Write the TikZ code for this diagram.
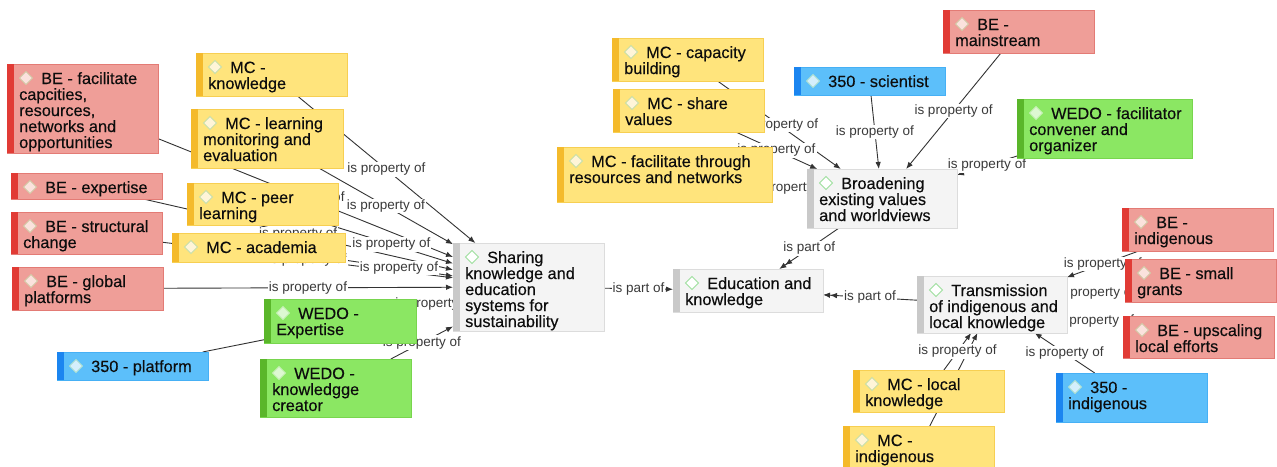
\documentclass[tikz,border=0pt]{standalone}
\usepackage{fontspec}
\setmainfont{Liberation Sans}
\newfontfamily\cardfont[FakeBold=0.35]{Liberation Sans}
\usetikzlibrary{arrows.meta}

\pgfdeclarelayer{paper}
\pgfdeclarelayer{links}
\pgfdeclarelayer{tags}
\pgfsetlayers{paper,links,tags,main}

% card colour sets: fill, border, side bar, icon fill, icon outline
\definecolor{be-fill}{HTML}{EF9E98}
\definecolor{be-line}{HTML}{E37B75}
\definecolor{be-bar}{HTML}{E13B35}
\definecolor{be-icon}{HTML}{FBE2DD}
\definecolor{be-iconline}{HTML}{D2C8A4}
\definecolor{mc-fill}{HTML}{FFE47C}
\definecolor{mc-line}{HTML}{F7CF52}
\definecolor{mc-bar}{HTML}{F4BA2B}
\definecolor{mc-icon}{HTML}{FFF5D8}
\definecolor{mc-iconline}{HTML}{C6DFA8}
\definecolor{sc-fill}{HTML}{5CBFFA}
\definecolor{sc-line}{HTML}{46B0F5}
\definecolor{sc-bar}{HTML}{1B85F0}
\definecolor{sc-icon}{HTML}{D4EFFC}
\definecolor{sc-iconline}{HTML}{ACE0D0}
\definecolor{wd-fill}{HTML}{8BE763}
\definecolor{wd-line}{HTML}{78D54E}
\definecolor{wd-bar}{HTML}{5AB62A}
\definecolor{wd-icon}{HTML}{DDF8D2}
\definecolor{wd-iconline}{HTML}{C4F0B2}
\definecolor{gr-fill}{HTML}{F4F4F4}
\definecolor{gr-line}{HTML}{DCDCDC}
\definecolor{gr-bar}{HTML}{C9C9C9}
\definecolor{gr-icon}{HTML}{FFFFFF}
\definecolor{gr-iconline}{HTML}{9EDF9E}
\definecolor{linkgrey}{HTML}{333333}
\definecolor{labelgrey}{HTML}{3A3A3A}

\tikzset{
  card/.style={draw=#1-line, fill=#1-fill, line width=0.8pt, inner sep=0pt,
    outer sep=0pt, anchor=north west},
  cardtext/.style={inner sep=0pt, anchor=base west,
    font=\cardfont\fontsize{16.3}{16}\selectfont, text=black!95},
  prop/.style={draw=linkgrey, line width=0.9pt,
    -{Latex[length=7pt,width=5.5pt]}},
  partone/.style={draw=linkgrey, line width=0.9pt,
    -{Latex[length=7pt,width=5.5pt]}},
  parttwo/.style={draw=linkgrey, line width=0.9pt,
    -{Latex[length=7pt,width=5.5pt]Latex[length=7pt,width=5.5pt]}},
  lbl/.style={fill=white, inner sep=1pt, font=\fontsize{13.5}{14}\selectfont,
    text=labelgrey},
}

% \card{name}{colour set}{left}{top}{width}{height}{text}
\newcommand\card[7]{%
  \node[card=#2, minimum width=#5pt, minimum height=#6pt] (#1) at (#3,#4) {};
  \fill[#2-bar] (#1.north west) rectangle ([xshift=7pt]#1.south west);
  \filldraw[fill=#2-icon, draw=#2-iconline, line width=1pt]
    ([shift={(19,14)}]#1.north west) +(-6.5,0) -- +(0,-6.5) -- +(6.5,0)
    -- +(0,6.5) -- cycle;
  \node[cardtext] (#1-t) at ([shift={(12,20)}]#1.north west)
    {\parbox[t]{220pt}{\raggedright\hspace*{22pt}#7}};
}

% \link{style}{from}{to}{label}: line under the cards, label above the lines
\newcommand\link[4]{%
  \begin{pgfonlayer}{links}
    \draw[#1] (#2) -- (#3);
  \end{pgfonlayer}
  \begin{pgfonlayer}{tags}
    \path (#2) -- node[lbl] (#2to#3) {#4} (#3);
  \end{pgfonlayer}
}

\begin{document}
\begin{tikzpicture}[x=1pt,y=-1pt]
\useasboundingbox (0,0) rectangle (1277,466);
\begin{pgfonlayer}{paper}
  \fill[white] (0,0) rectangle (1277,466);
\end{pgfonlayer}

% left cluster
\card{befac}{be}{7}{64}{151}{89}{BE - facilitate\\capcities,\\resources,\\networks and\\opportunities}
\card{mckn}{mc}{196}{53}{151}{43}{MC -\\knowledge}
\card{mclme}{mc}{191}{109}{152}{59}{MC - learning\\monitoring and\\evaluation}
\card{beexp}{be}{11}{173}{151}{26}{BE - expertise}
\card{mcpeer}{mc}{187}{183}{151}{42}{MC - peer\\learning}
\card{bestr}{be}{11}{212}{151}{42}{BE - structural\\change}
\card{mcacad}{mc}{172}{233}{173}{29}{MC - academia}
\card{beglob}{be}{12}{267}{151}{43}{BE - global\\platforms}
\card{plat}{sc}{57}{352}{151}{28}{350 - platform}
\card{wedoexp}{wd}{264}{299}{152}{44}{WEDO -\\Expertise}
\card{wedokn}{wd}{260}{359}{151}{58}{WEDO -\\knowledgge\\creator}
\card{shr}{gr}{453}{243}{151}{88}{Sharing\\knowledge and\\education\\systems for\\sustainability}

% centre
\card{edu}{gr}{673}{269}{150}{43}{Education and\\knowledge}

% upper right cluster
\card{mccap}{mc}{612}{38}{151}{43}{MC - capacity\\building}
\card{mcshare}{mc}{613}{89}{151}{43}{MC - share\\values}
\card{mcfac}{mc}{557}{147}{215}{55}{MC - facilitate through\\resources and networks}
\card{sci}{sc}{794}{67}{151}{28}{350 - scientist}
\card{bemain}{be}{943}{10}{151}{43}{BE -\\mainstream}
\card{wedofac}{wd}{1017}{99}{175}{59}{WEDO - facilitator\\convener and\\organizer}
\card{brd}{gr}{807}{169}{150}{59}{Broadening\\existing values\\and worldviews}

% lower right cluster
\card{beind}{be}{1122}{208}{151}{43}{BE -\\indigenous}
\card{begr}{be}{1125}{259}{151}{43}{BE - small\\grants}
\card{beup}{be}{1123}{316}{151}{42}{BE - upscaling\\local efforts}
\card{trn}{gr}{917}{276}{150}{57}{Transmission\\of indigenous and\\local knowledge}
\card{mcloc}{mc}{853}{370}{151}{42}{MC - local\\knowledge}
\card{mcind}{mc}{843}{426}{151}{44}{MC -\\indigenous}
\card{ind350}{sc}{1056}{373}{151}{49}{350 -\\indigenous}

% properties of the sharing theme
\link{prop}{befac}{shr}{is property of}
\link{prop}{mckn}{shr}{is property of}
\link{prop}{mclme}{shr}{is property of}
\link{prop}{beexp}{shr}{is property of}
\link{prop}{mcpeer}{shr}{is property of}
\link{prop}{bestr}{shr}{is property of}
\link{prop}{mcacad}{shr}{is property of}
\link{prop}{beglob}{shr}{is property of}
\link{prop}{plat}{shr}{is property of}
\link{prop}{wedoexp}{shr}{is property of}
\link{prop}{wedokn}{shr}{is property of}

% properties of the broadening theme
\link{prop}{mccap}{brd}{is property of}
\link{prop}{mcshare}{brd}{is property of}
\link{prop}{mcfac}{brd}{is property of}
\link{prop}{sci}{brd}{is property of}
\link{prop}{bemain}{brd}{is property of}
\link{prop}{wedofac}{brd}{is property of}

% properties of the transmission theme
\link{prop}{beind}{trn}{is property of}
\link{prop}{begr}{trn}{is property of}
\link{prop}{beup}{trn}{is property of}
\link{prop}{ind350}{trn}{is property of}
\link{prop}{mcind}{trn}{is property of}
\link{prop}{mcloc}{trn}{is property of}

% themes that make up education and knowledge
\link{partone}{shr}{edu}{is part of}
\link{parttwo}{brd}{edu}{is part of}
\link{parttwo}{trn}{edu}{is part of}
\end{tikzpicture}
\end{document}
